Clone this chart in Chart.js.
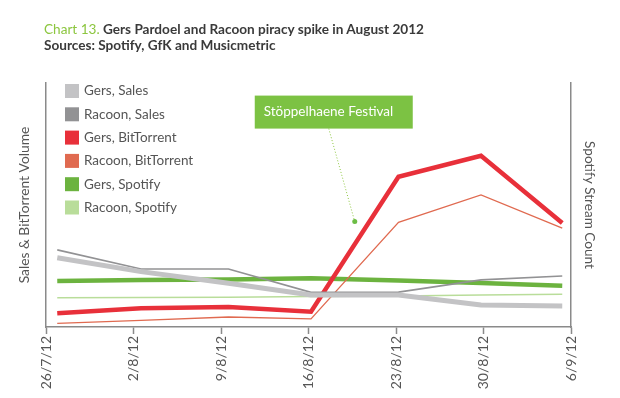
<!DOCTYPE html>
<html>
<head>
<meta charset="utf-8">
<script src="https://cdn.jsdelivr.net/npm/chart.js@4.4.1/dist/chart.umd.min.js"></script>
<style>
  html, body { margin: 0; padding: 0; background: #fff; }
  #wrap { position: relative; width: 620px; height: 398px; }
  #title { position: absolute; left: 44px; top: 21px; font: bold 13.6px Lato, sans-serif; color: #3a3a3a; line-height: 16px; z-index: 2; }
  #title .num { color: #8cc63f; font-weight: normal; }
  canvas { position: absolute; left: 0; top: 0; }
</style>
</head>
<body>
<div id="wrap">
  <div id="title"><span class="num">Chart 13.</span> Gers Pardoel and Racoon piracy spike in August 2012<br>Sources: Spotify, GfK and Musicmetric</div>
  <canvas id="c" width="620" height="398"></canvas>
</div>
<script>
// weekly dates, x in days from 26/7/12
const tickDays = [0, 7, 14, 21, 28, 35, 42];
const tickLabels = ['26/7/12', '2/8/12', '9/8/12', '16/8/12', '23/8/12', '30/8/12', '6/9/12'];
const pointDays = [0.9, 7.6, 14.6, 21.2, 28.2, 34.8, 41.3];

// relative volumes (no scale shown on the original)
const gersSales      = [28.4, 22.7, 17.9, 13.1, 13.1, 9.0, 8.6];
const racoonSales    = [31.6, 23.8, 23.8, 14.2, 14.3, 19.3, 20.9];
const gersTorrent    = [5.6, 7.7, 8.2, 6.3, 61.6, 70.2, 42.6];
const racoonTorrent  = [1.5, 2.7, 4.1, 3.3, 42.9, 54.1, 40.5];
const gersSpotify    = [18.9, 19.3, 19.5, 20.0, 19.1, 18.0, 16.9];
const racoonSpotify  = [12.0, 12.1, 12.2, 12.5, 12.7, 13.1, 13.4];

const festivalLabel = 'Stöppelhaene Festival';
const festivalPoint = { x: 24.7, y: 43.2 };

const pts = vals => vals.map((v, i) => ({ x: pointDays[i], y: v }));

function line(label, vals, color, width, axis) {
  return {
    label: label,
    data: pts(vals),
    borderColor: color,
    backgroundColor: color,
    borderWidth: width,
    pointRadius: 0,
    tension: 0,
    fill: false,
    yAxisID: axis,
    borderJoinStyle: 'miter'
  };
}

const axisGray = '#8a8a8a';

// legend boxes + festival callout, drawn on the canvas
const extras = {
  id: 'extras',
  afterDatasetsDraw(chart) {
    const ctx = chart.ctx;
    const area = chart.chartArea;
    ctx.save();
    ctx.font = '13.5px Lato, sans-serif';
    ctx.textBaseline = 'middle';
    chart.data.datasets.forEach((ds, i) => {
      const y = area.top + 8 + i * 23.3;
      ctx.fillStyle = ds.borderColor;
      ctx.fillRect(area.left + 19, y - 7, 14, 14);
      ctx.fillStyle = '#555';
      ctx.fillText(ds.label, area.left + 38, y);
    });

    const px = chart.scales.x.getPixelForValue(festivalPoint.x);
    const py = chart.scales.y.getPixelForValue(festivalPoint.y);
    const bx = px - 100, by = py - 126, bw = 158, bh = 33;
    ctx.strokeStyle = '#8cc63f';
    ctx.lineWidth = 1;
    ctx.setLineDash([1, 2]);
    ctx.beginPath();
    ctx.moveTo(bx + 74, by + bh);
    ctx.lineTo(px, py);
    ctx.stroke();
    ctx.setLineDash([]);
    ctx.fillStyle = '#6cbd45';
    ctx.beginPath();
    ctx.arc(px, py, 2.5, 0, Math.PI * 2);
    ctx.fill();
    ctx.fillStyle = '#7cc243';
    ctx.fillRect(bx, by, bw, bh);
    ctx.fillStyle = '#fff';
    ctx.font = '13.5px Lato, sans-serif';
    ctx.fillText(festivalLabel, bx + 9, by + bh / 2);
    ctx.restore();
  }
};

new Chart(document.getElementById('c'), {
  type: 'line',
  data: {
    datasets: [
      line('Gers, Sales', gersSales, '#c3c3c5', 5, 'y'),
      line('Racoon, Sales', racoonSales, '#929294', 1.6, 'y'),
      line('Gers, BitTorrent', gersTorrent, '#e8303a', 4.5, 'y'),
      line('Racoon, BitTorrent', racoonTorrent, '#e06a50', 1.3, 'y'),
      line('Gers, Spotify', gersSpotify, '#6cb33f', 4.5, 'y2'),
      line('Racoon, Spotify', racoonSpotify, '#b9dd9a', 1.6, 'y2')
    ]
  },
  options: {
    responsive: false,
    animation: false,
    layout: { padding: { top: 83, left: 0, right: 0, bottom: 0 } },
    plugins: { legend: { display: false }, tooltip: { enabled: false } },
    scales: {
      x: {
        type: 'linear',
        min: 0,
        max: 42,
        afterBuildTicks: s => { s.ticks = tickDays.map(v => ({ value: v })); },
        afterFit: s => { s.height = 71; },
        grid: { display: true, drawOnChartArea: false, tickLength: 7, color: axisGray, tickWidth: 1.5 },
        border: { color: axisGray, width: 1.5 },
        ticks: {
          autoSkip: false,
          minRotation: 90,
          maxRotation: 90,
          padding: 2,
          color: '#555',
          font: { family: 'Lato', size: 14 },
          callback: (v, i) => tickLabels[i]
        }
      },
      y: {
        position: 'left',
        min: 0,
        max: 100,
        afterFit: s => { s.width = 46; },
        grid: { display: false },
        border: { color: axisGray, width: 1.5 },
        ticks: { display: false },
        title: { display: true, text: 'Sales & BitTorrent Volume', color: '#555', font: { family: 'Lato', size: 13.8 }, padding: { top: 16, bottom: 0 } }
      },
      y2: {
        position: 'right',
        min: 0,
        max: 100,
        afterFit: s => { s.width = 49; },
        grid: { display: false },
        border: { color: axisGray, width: 1.5 },
        ticks: { display: false },
        title: { display: true, text: 'Spotify Stream Count', color: '#555', font: { family: 'Lato', size: 13.6 }, padding: { top: 22, bottom: 0 } }
      }
    }
  },
  plugins: [extras]
});
</script>
</body>
</html>
